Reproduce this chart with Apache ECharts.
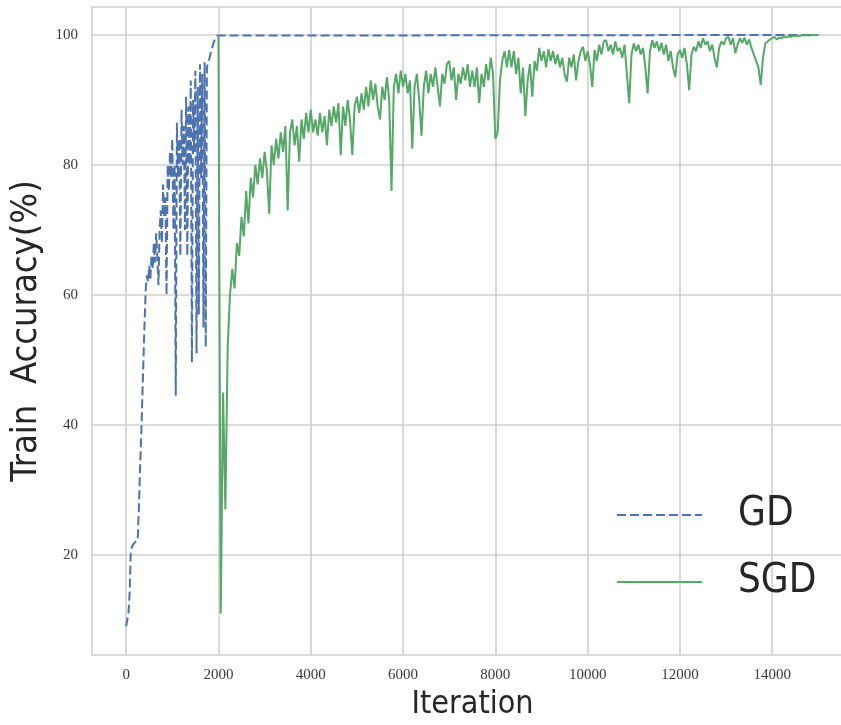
<!DOCTYPE html>
<html><head><meta charset="utf-8">
<script src="https://cdn.jsdelivr.net/npm/echarts@6/dist/echarts.min.js"></script>
<style>html,body{margin:0;padding:0;background:#fff}#c{width:841px;height:725px}</style>
</head><body><div id="c"></div>
<script>
// ---- data ----
const xTicks = [0, 2000, 4000, 6000, 8000, 10000, 12000, 14000];
const yTicks = [20, 40, 60, 80, 100];
const seriesNames = ['GD', 'SGD'];

// GD: sampled every 25 iterations from 0 to 2000, then flat to 15000
const gdStart = 0;
const gdStep = 25;
const gdAcc = [
  9, 10, 11, 14, 20.5, 21.2, 21.6, 21.8, 22, 22, 22.2, 27, 33, 38, 44, 50, 56,
  61, 63, 62, 64.5, 62.5, 66, 64, 68, 65, 69.5,
  66, 61.5, 70, 73, 68, 77, 72, 75, 60, 80,
  76, 82, 78, 84, 70, 80, 44.5, 86.5, 78, 84,
  66, 88.5, 80, 86, 70, 90.5, 66, 89, 80, 93,
  49.6, 90, 82, 94.5, 51, 92, 57, 95.5, 78, 94,
  55, 95.8, 52,
  95, 95.8, 96.3, 97, 97.7, 98.3, 98.9, 99.4, 99.7, 99.9, 100
];
const gdTailIter = [15000];
const gdTailAcc = [100];

// SGD: sampled every 50 iterations from 2000 to 15000
const sgdStart = 2000;
const sgdStep = 50;
const sgdAcc = [
  // 2000-2950
  100, 11, 45, 27, 52, 60, 64, 61, 68, 66, 72, 69, 76, 71, 78, 75, 80, 77, 81, 78,
  // 3000-3950
  82, 79, 72.5, 83, 80, 84, 81, 85, 82, 86, 73, 85, 87, 83, 86, 80.5, 87, 84, 88, 85,
  // 4000-4950
  88.5, 85, 87, 84.5, 88, 85, 87.5, 83, 88.5, 86, 89, 86.5, 89.5, 81.5, 89, 86, 90, 87, 81.5, 89,
  // 5000-5950
  90.5, 88, 91, 88.5, 92, 89, 93, 90, 92.5, 89, 87, 92, 90, 93.5, 90, 76, 92, 94, 91, 94.5,
  // 6000-6950
  92, 94, 91, 93, 82.5, 92, 94, 90, 84.5, 92, 94.5, 91, 94, 92, 95, 92, 89, 94, 92.5, 95.5,
  // 7000-7950
  96, 93, 95, 90, 94, 92.5, 95, 93, 95.5, 92, 94.5, 92, 95, 89.5, 94, 92, 95.5, 93, 96.5, 94,
  // 8000-8950
  84, 85, 93, 96, 97.5, 95, 97.7, 95, 97.5, 94, 96.5, 91, 95, 87.5, 93, 95.5, 90.5, 96, 94.5, 98,
  // 9000-9950
  96, 97.5, 95, 97.8, 96, 97.5, 95.5, 97, 95, 96.5, 94, 92.8, 96.5, 95, 97, 93, 96, 97.5, 98.2, 96,
  // 10000-10950
  97.5, 95.5, 92, 97.7, 96, 98.5, 97, 99, 99.2, 97.5, 98.5, 97, 99, 97.5, 98, 96.5, 98.5, 94, 89.5, 97,
  // 11000-11950
  98.7, 97.5, 98.5, 97, 98, 95, 91, 97.5, 99.2, 98, 99, 97.5, 98.8, 97, 98.5, 96, 97.5, 95, 93.5, 97,
  // 12000-12950
  97.7, 96.5, 98, 95.5, 91.5, 97, 98.2, 97.5, 99, 98, 99.5, 98.5, 99, 97.5, 98.5, 96.5, 95, 98, 99, 98.5,
  // 13000-13950
  99.5, 99.7, 98.5, 99.5, 97.2, 98.5, 99.5, 98.8, 99.6, 98.5, 99.3, 98, 97, 96, 95, 92.3, 96.5, 98.7, 99, 99.3,
  // 14000-15000
  99.5, 99.7, 99.3, 99.6, 99.5, 99.8, 99.6, 99.8, 99.7, 99.9, 99.8, 99.9, 99.8, 100, 99.9, 100, 99.9, 100, 100, 100, 100
];

// ---- build series data ----
const gdData = gdAcc.map((v, i) => [gdStart + i * gdStep, v])
  .concat(gdTailIter.map((x, i) => [x, gdTailAcc[i]]));
const sgdData = sgdAcc.map((v, i) => [sgdStart + i * sgdStep, v]);

const narrow = "'Liberation Sans Narrow', 'DejaVu Sans Condensed', 'Open Sans', sans-serif";
const tickFont = "'Liberation Serif', 'DejaVu Serif', serif";
const gridColor = '#d0d0d0';

const chart = echarts.init(document.getElementById('c'), null, {renderer: 'canvas'});
chart.setOption({
  animation: false,
  backgroundColor: '#ffffff',
  grid: {
    left: 92, top: 7, width: 761, height: 648,
    outerBoundsMode: 'none', containLabel: false,
    show: true, borderColor: gridColor, borderWidth: 1.6, backgroundColor: 'transparent'
  },
  xAxis: {
    type: 'value', min: -740, max: 15750,
    axisLine: {show: false},
    axisTick: {show: false, customValues: xTicks},
    axisLabel: {customValues: xTicks, margin: 13, fontFamily: tickFont, fontSize: 15, color: '#3a3a3a',
      formatter: v => String(v)},
    splitLine: {show: true, lineStyle: {color: gridColor, width: 1.6}},
    name: 'Iteration', nameLocation: 'middle', nameGap: 34,
    nameTextStyle: {fontFamily: narrow, fontSize: 32, color: '#262626'}
  },
  yAxis: {
    type: 'value', min: 4.6, max: 104.3,
    axisLine: {show: false},
    axisTick: {show: false, customValues: yTicks},
    axisLabel: {customValues: yTicks, margin: 14, fontFamily: tickFont, fontSize: 15, color: '#3a3a3a',
      formatter: v => String(v)},
    splitLine: {show: true, lineStyle: {color: gridColor, width: 1.6}},
    name: 'Train  Accuracy(%)', nameLocation: 'middle', nameGap: 44,
    nameTextStyle: {fontFamily: narrow, fontSize: 36, color: '#262626'}
  },
  legend: {
    orient: 'vertical', left: 616, top: 495, padding: 0,
    itemWidth: 85, itemHeight: 14, itemGap: 27,
    itemStyle: {opacity: 0},
    textStyle: {fontFamily: narrow, fontSize: 40, lineHeight: 40, color: '#262626', padding: [0, 0, 0, 31]},
    data: seriesNames
  },
  series: [
    {
      name: seriesNames[0], type: 'line', data: gdData, symbol: 'none', z: 2,
      lineStyle: {color: '#4C72B0', width: 2, type: [9, 4]},
      itemStyle: {color: '#4C72B0'}
    },
    {
      name: seriesNames[1], type: 'line', data: sgdData, symbol: 'none', z: 3,
      lineStyle: {color: '#55A868', width: 2},
      itemStyle: {color: '#55A868'}
    }
  ]
});
</script></body></html>
